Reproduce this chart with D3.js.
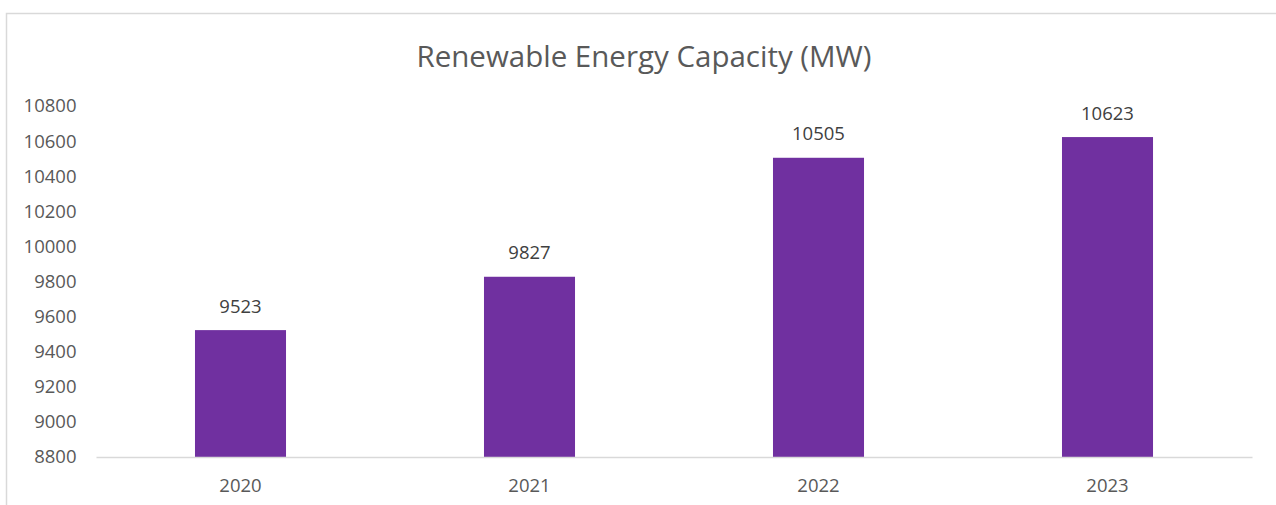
<!DOCTYPE html>
<html><head><meta charset="utf-8">
<script src="https://cdn.jsdelivr.net/npm/d3@7"></script>
<style>html,body{margin:0;padding:0;background:#fff;}svg{display:block;}</style>
</head><body>
<svg id="chart" width="1276" height="505"></svg>
<script>
const categories = ["2020", "2021", "2022", "2023"];
const values = [9523, 9827, 10505, 10623];
const yTicks = [8800, 9000, 9200, 9400, 9600, 9800, 10000, 10200, 10400, 10600, 10800];
const title = "Renewable Energy Capacity (MW)";

(function () {
const svg = d3.select("#chart");
const font = "'Open Sans', sans-serif";
const textColor = "#595959";
const fs = 18.5;

svg.append("rect").attr("x", 6.5).attr("y", 13.5).attr("width", 1290).attr("height", 520)
  .attr("fill", "#fff").attr("stroke", "#d9d9d9").attr("stroke-width", 1.5);

const mLeft = 96, mRight = 1252, mTop = 106, mBottom = 457;
const x = d3.scaleBand().domain(categories).range([mLeft, mRight]).paddingInner(0.685).paddingOuter(0.3425);
const y = d3.scaleLinear().domain([8800, 10800]).range([mBottom, mTop]);

svg.append("text").attr("x", 644).attr("y", 67).attr("text-anchor", "middle")
  .attr("font-family", font).attr("font-size", 29.5).attr("fill", textColor).text(title);

svg.selectAll("rect.bar").data(values).enter().append("rect").attr("class", "bar")
  .attr("x", (d, i) => x(categories[i])).attr("width", x.bandwidth())
  .attr("y", d => y(d)).attr("height", d => y(8800) - y(d)).attr("fill", "#7030A0");

svg.selectAll("text.lbl").data(values).enter().append("text").attr("class", "lbl")
  .attr("x", (d, i) => x(categories[i]) + x.bandwidth() / 2).attr("y", d => y(d) - 17.5)
  .attr("text-anchor", "middle").attr("font-family", font).attr("font-size", fs)
  .attr("fill", "#404040").text(d => d);

const yAxis = d3.axisLeft(y).tickValues(yTicks).tickSize(0).tickPadding(0).tickFormat(d3.format("d"));
const gy = svg.append("g").attr("transform", "translate(76.5,0)").call(yAxis);
gy.select(".domain").remove();
gy.selectAll("text").attr("font-family", font).attr("font-size", fs).attr("fill", textColor);

const xAxis = d3.axisBottom(x).tickSize(0).tickPadding(22);
const gx = svg.append("g").attr("transform", `translate(0,${mBottom})`).call(xAxis);
gx.select(".domain").attr("stroke", "#d9d9d9").attr("stroke-width", 1.5);
gx.selectAll("text").attr("font-family", font).attr("font-size", fs).attr("fill", textColor);
})();
</script>
</body></html>
